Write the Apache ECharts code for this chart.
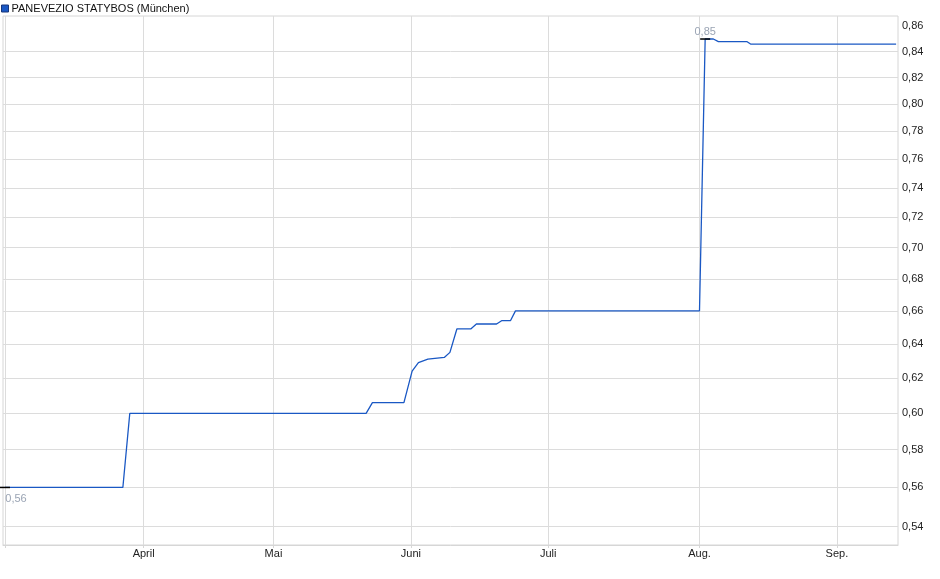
<!DOCTYPE html>
<html>
<head>
<meta charset="utf-8">
<script src="https://cdn.jsdelivr.net/npm/echarts@6/dist/echarts.min.js"></script>
<style>
html, body { margin: 0; padding: 0; background: #fff; }
#main { width: 940px; height: 579px; }
</style>
</head>
<body>
<div id="main"></div>
<script>
// Titel / Legende
var seriesName = 'PANEVEZIO STATYBOS (München)';

// Handelstag-Index und Kurs an den Knickpunkten der Linie
var days   = [0, 18.7, 19.8, 57.3, 58.3, 63.3, 64.6, 65.6, 67.1, 69.7, 70.6, 71.7, 73.9, 74.8, 78.0, 78.8, 80.2, 81.0, 110.2, 111.1, 112.4, 113.2, 117.7, 118.3, 141.4];
var prices = [0.56, 0.56, 0.60, 0.60, 0.606, 0.606, 0.624, 0.629, 0.631, 0.632, 0.635, 0.649, 0.649, 0.652, 0.652, 0.654, 0.654, 0.66, 0.66, 0.85, 0.85, 0.848, 0.848, 0.846, 0.846];

// Monatsanfaenge auf der Zeitachse
var monthPos   = [22.0, 42.6, 64.4, 86.2, 110.2, 132.0];
var monthNames = ['April', 'Mai', 'Juni', 'Juli', 'Aug.', 'Sep.'];

// Kursachse (logarithmisch)
var priceLabels = [0.54, 0.56, 0.58, 0.60, 0.62, 0.64, 0.66, 0.68, 0.70, 0.72, 0.74, 0.76, 0.78, 0.80, 0.82, 0.84, 0.86];
var priceLines  = [0.54, 0.56, 0.58, 0.60, 0.62, 0.64, 0.66, 0.68, 0.70, 0.72, 0.74, 0.76, 0.78, 0.80, 0.82, 0.84];

function komma(v) {
    return Number(v).toFixed(2).replace('.', ',');
}

var chart = echarts.init(document.getElementById('main'), null, {renderer: 'canvas'});

var lineData = [];
for (var i = 0; i < days.length; i++) {
    lineData.push([days[i], prices[i]]);
}

var option = {
    animation: false,
    backgroundColor: '#fff',
    textStyle: {fontFamily: 'Liberation Sans, Arial, sans-serif'},
    legend: {
        show: true,
        left: 1,
        top: 3,
        padding: 0,
        icon: 'rect',
        itemWidth: 7,
        itemHeight: 7,
        itemStyle: {borderColor: '#17357a', borderWidth: 1},
        textStyle: {fontSize: 11, color: '#111', padding: [0, 0, 0, -2]},
        data: [seriesName]
    },
    grid: {
        left: 3,
        right: 42,
        top: 16,
        bottom: 34,
        show: true,
        borderColor: '#d6d6d6',
        borderWidth: 1
    },
    xAxis: {
        type: 'value',
        min: -0.32,
        max: 141.7,
        axisLine: {show: true, lineStyle: {color: '#d6d6d6'}},
        axisTick: {
            show: true,
            length: 3,
            lineStyle: {color: '#d6d6d6'},
            customValues: [0].concat(monthPos)
        },
        axisLabel: {
            customValues: monthPos,
            margin: 3,
            fontSize: 11,
            color: '#222',
            formatter: function (v) {
                var k = monthPos.indexOf(v);
                return k >= 0 ? monthNames[k] : '';
            }
        },
        splitLine: {show: true, lineStyle: {color: '#dcdcdc', width: 1}}
    },
    yAxis: {
        type: 'log',
        position: 'right',
        min: 0.5308,
        max: 0.8684,
        axisLine: {show: false},
        axisTick: {show: false, customValues: priceLines},
        axisLabel: {
            customValues: priceLabels,
            margin: 4,
            fontSize: 11,
            color: '#222',
            padding: [4, 0, 0, 0],
            formatter: function (v) { return komma(v); }
        },
        splitLine: {show: true, lineStyle: {color: '#dcdcdc', width: 1}}
    },
    series: [{
        name: seriesName,
        type: 'line',
        data: lineData,
        showSymbol: false,
        color: '#1a58c4',
        lineStyle: {width: 1.3, color: '#1a58c4'},
        markPoint: {
            symbol: 'rect',
            symbolSize: [10, 1.5],
            itemStyle: {color: '#000'},
            label: {
                show: true,
                fontSize: 11,
                color: '#9aa4b4',
                formatter: function (p) { return komma(p.value); }
            },
            data: [
                {type: 'max', label: {position: 'top', distance: 1}},
                {type: 'min', label: {position: 'bottom', distance: 5, offset: [11, 0]}}
            ]
        }
    }]
};

chart.setOption(option);
</script>
</body>
</html>
